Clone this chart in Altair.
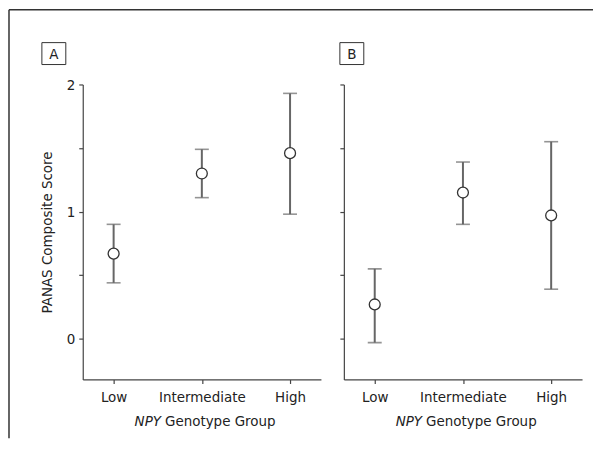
import altair as alt
import pandas as pd

groups = ["Low", "Intermediate", "High"]
a_mean = [0.67, 1.30, 1.46]
a_lo = [0.44, 1.11, 0.98]
a_hi = [0.90, 1.49, 1.93]
b_mean = [0.27, 1.15, 0.97]
b_lo = [-0.03, 0.90, 0.39]
b_hi = [0.55, 1.39, 1.55]
panel_labels = ["A", "B"]
y_ticks = [0, 0.5, 1, 1.5, 2]
y_domain = [-0.32, 2]
y_title = "PANAS Composite Score"
x_title_italic = "NPY"
x_title_rest = "Genotype Group"

FONT = "DejaVu Sans Condensed"
FS = 15
W, H = 239, 296
AX = "#444444"
TXT = "#222222"
BAR = "#666666"


def panel(mean, lo, hi, label, first):
    df = pd.DataFrame({"group": groups, "mean": mean, "lo": lo, "hi": hi})
    base = alt.Chart(df)
    xenc = alt.X(
        "group:N", sort=groups,
        scale=alt.Scale(type="point", padding=0.35),
        axis=alt.Axis(title=None, labelAngle=0, labelFont=FONT, labelFontSize=FS,
                      labelColor=TXT, tickSize=4, tickColor=AX, domainColor=AX,
                      domainWidth=1.2, tickWidth=1.2, labelPadding=6, grid=False),
    )
    xs = alt.X("group:N", sort=groups)
    yscale = alt.Scale(domain=y_domain, nice=False, zero=False)
    if first:
        yaxis = alt.Axis(values=y_ticks, grid=False, tickSize=4, tickColor=AX,
                         domainColor=AX, domainWidth=1.2, tickWidth=1.2,
                         labelExpr="datum.value % 1 == 0 ? toString(datum.value) : ''",
                         labelFont=FONT, labelFontSize=FS, labelColor=TXT, labelPadding=4,
                         title=y_title, titleFont=FONT, titleFontSize=FS,
                         titleFontWeight="normal", titleColor=TXT, titlePadding=12)
    else:
        yaxis = alt.Axis(values=y_ticks, grid=False, tickSize=4, tickColor=AX,
                         domainColor=AX, domainWidth=1.2, tickWidth=1.2,
                         labels=False, title=None)
    yenc = alt.Y("lo:Q", scale=yscale, axis=yaxis)

    rule = base.mark_rule(color=BAR, strokeWidth=2).encode(x=xenc, y=yenc, y2="hi:Q")
    cap_lo = base.mark_tick(color=BAR, size=14, thickness=1.6).encode(
        x=xs, y="lo:Q")
    cap_hi = base.mark_tick(color=BAR, size=14, thickness=1.6).encode(
        x=xs, y="hi:Q")
    pts = base.mark_point(shape="circle", filled=True, fill="white", stroke="#333333",
                          strokeWidth=1.3, size=120, opacity=1).encode(
        x=xs, y="mean:Q")

    tdf = pd.DataFrame({"group": ["Intermediate"], "a": [x_title_italic],
                        "b": [x_title_rest]})
    t1 = alt.Chart(tdf).mark_text(font=FONT, fontSize=FS, fontStyle="italic",
                                  align="right", baseline="middle", dx=-41,
                                  color=TXT).encode(
        x=xs, y=alt.value(338), text="a:N")
    t2 = alt.Chart(tdf).mark_text(font=FONT, fontSize=FS, align="left",
                                  baseline="middle", dx=-37, color=TXT).encode(
        x=xs, y=alt.value(338), text="b:N")

    ldf = pd.DataFrame({"label": [label]})
    if first:
        bx0, bx1 = -41, -17
    else:
        bx0, bx1 = -4, 20
    box = alt.Chart(ldf).mark_rect(fill="white", stroke="#333333", strokeWidth=1).encode(
        x=alt.value(bx0), x2=alt.value(bx1), y=alt.value(-42), y2=alt.value(-20))
    ltxt = alt.Chart(ldf).mark_text(font=FONT, fontSize=FS, align="center",
                                    baseline="middle", color=TXT).encode(
        x=alt.value((bx0 + bx1) / 2), y=alt.value(-31), text="label:N")

    layers = [rule, cap_lo, cap_hi, pts, t1, t2, box, ltxt]
    if first:
        fdf = pd.DataFrame({"k": [0]})
        fl = alt.Chart(fdf).mark_rule(color="#333333", strokeWidth=1.5).encode(
            x=alt.value(-74), y=alt.value(-75), y2=alt.value(355))
        ft = alt.Chart(fdf).mark_rule(color="#333333", strokeWidth=1.5).encode(
            x=alt.value(-74), x2=alt.value(512), y=alt.value(-75))
        layers += [fl, ft]
    return alt.layer(*layers).properties(width=W, height=H)


chart = alt.hconcat(
    panel(a_mean, a_lo, a_hi, panel_labels[0], True),
    panel(b_mean, b_lo, b_hi, panel_labels[1], False),
    spacing=23, bounds="flush",
).properties(padding=0).configure_view(strokeWidth=0)

chart.save("out.html", embed_options={"renderer": "svg", "actions": False})
